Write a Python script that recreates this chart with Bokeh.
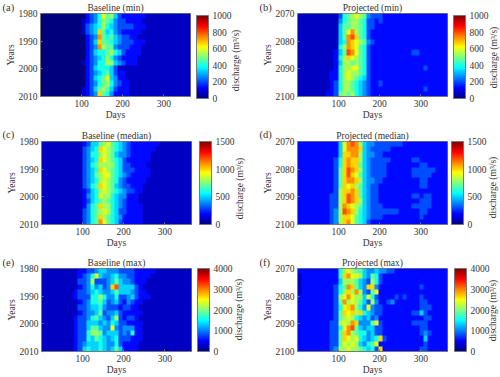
from bokeh.plotting import figure
from bokeh.layouts import column, row
from bokeh.models import LinearColorMapper, ColorBar, Label, FixedTicker
from bokeh.embed import file_html
from bokeh.resources import INLINE
import numpy as np
from math import pi

# Levels 0-f (fraction of the colour scale /15), rows = every 2 years, columns = 10-day bins
rows_a = [
"0000000000 0234697853 2222221111 1111111",
"0000000000 1234687643 3222211111 1111111",
"0000000000 1345686543 3332221111 1111111",
"0000000000 1345a75643 2222211111 1111111",
"0000000000 0234b76754 3322111111 1111111",
"0000000000 0235a77654 3332221111 1111111",
"0000000000 0234b87743 3322211111 1111111",
"0000000000 0235667865 3222211111 1111111",
"0000000000 0234568643 2222111111 1111111",
"0000000000 1234668854 3222111111 1111111",
"0000000000 0235666531 1111111111 1111111",
"0000000000 0234567532 2111111111 1111111",
"0000000000 0235679542 2111111111 1111111",
"0000000000 0234678643 2211111111 1111111",
"0000000000 1235787532 2211111111 1111111",
"0000000000 1234a76422 2211111111 1111111",
]
rows_b = [
"1111111111 3678987433 3222222222 2222222",
"1111111111 4678876332 3222222222 2222222",
"1111111111 5778876332 2222222222 2222222",
"1111111111 579b876322 2222222222 2222222",
"1111111111 57bca76322 2222222222 2222222",
"1111111111 56ba987432 2222222222 2222222",
"1111111111 68ba976322 2222222222 2222222",
"1111111112 57cb976322 2222222233 2222222",
"1111111112 68a9876322 2222222222 2222222",
"1111111112 5887876322 2222222222 2222222",
"1111111112 6889976322 2222222222 2322222",
"1111111122 6898876322 2222222222 2222222",
"1111111122 6898765322 2222222222 2222222",
"1111111123 6887654322 3222222222 2222222",
"1111111123 6887654322 2222222222 2322222",
"1111111223 7878654322 2222222222 2222222",
]
rows_c = [
"1111111111 2355789765 4322222221 1111111",
"1111111111 3456a98765 4322222211 1111111",
"1111111111 3466898754 4322222111 1111111",
"1111111111 3456a98765 3222222111 1111111",
"1111111111 3467888865 3322221111 1111111",
"1111111111 3456a98765 3332222111 1111111",
"1111111111 3457899765 4322222111 1111111",
"1111111111 3456898764 3222221111 1111111",
"1111111111 3467a98754 3322211111 1111111",
"1111111111 2356898765 4332211111 1111111",
"1111111111 2456988654 4222111111 1111111",
"1111111111 2356787654 3222111111 1111111",
"1111111111 2467a88654 3222211111 1111111",
"1111111111 3467898653 3222211111 1111111",
"1111111111 3467a87654 2222211111 1111111",
"1111111111 3467b97653 2222211111 1111111",
]
rows_d = [
"2222222222 59bcb85443 3333332222 2222222",
"2222222222 59bbba5433 3332222222 2222222",
"2222222222 5aabb85443 3222222222 2222222",
"2222222223 6abaa85433 3332222233 2222222",
"2222222223 6abaa75433 3322222222 3322222",
"2222222223 7acba85433 3322222233 3333222",
"2222222223 7aca975433 3322222233 3332222",
"2222222223 7abba85443 3222222222 3322222",
"2222222223 7a9a875433 2222222222 3322222",
"2222222223 8aaba75433 2222222222 2222222",
"2222222233 8acba75433 2222222233 2332222",
"2222222233 8acba85433 2222222222 3332222",
"2222222233 8ba9875433 3222222233 3332222",
"2222222234 8cba865433 3333322222 3322222",
"2222222234 8aa9765433 3222222222 3222222",
"2222222234 8ab9765322 2222222222 2222222",
]
rows_e = [
"1111111112 2334554443 3332222211 1111111",
"1111111112 3469544564 4332222111 1111111",
"1111111113 3483334575 4432221111 1111111",
"1111111112 3464534ac5 5553211111 1111111",
"1111111123 3456544575 5543221111 1111111",
"1111111123 3366864463 3453222111 1111111",
"1111111112 3466753453 2432211111 1111111",
"1111111113 3455643332 3322111111 1111111",
"1111111112 3445734453 2222211111 1111111",
"1111111123 3467543583 2332111111 1111111",
"1111111123 3555454653 3222211111 1111111",
"1111111123 3577544943 4442211111 1111111",
"1111111123 3688745553 4362211111 1111111",
"1111111123 3657654563 3322211111 1111111",
"1111111123 4555654463 2222111111 1111111",
"1111111123 5655654575 2222111111 1111111",
]
rows_f = [
"2222222222 6898775445 4433222222 2222222",
"1222222222 6ab9985476 3222222222 2222222",
"1222222222 5888754386 3222222222 2222222",
"1222222223 67ba754aa4 2222222222 3222222",
"1222222223 68a8b84379 2222222222 2222222",
"2222222223 89b9885963 2222323222 3222222",
"2222222223 7b89875384 2234222222 3322222",
"2222222223 69ab864943 3222222222 3332222",
"2222222223 7a9a8a6543 3222222233 5322222",
"2222222223 7898654534 2222222222 2332222",
"2222222233 898ba44479 3222222233 3322222",
"2222222233 69bc754553 3222222222 3322222",
"2222222233 7ab8766453 3222222222 3432222",
"2222222233 7a98965456 a322222222 2522222",
"2222222233 7989854679 2222222222 2322222",
"2222222234 8898876563 a222222222 3322222",
]

titles = ["Baseline (min)", "Projected (min)", "Baseline (median)", "Projected (median)", "Baseline (max)", "Projected (max)"]
letters = ["(a)", "(b)", "(c)", "(d)", "(e)", "(f)"]
vmaxes = [1000, 1000, 1500, 1500, 4000, 4000]
cb_ticks = [[0, 200, 400, 600, 800, 1000], [0, 200, 400, 600, 800, 1000],
            [0, 500, 1000, 1500], [0, 500, 1000, 1500],
            [0, 1000, 2000, 3000, 4000], [0, 1000, 2000, 3000, 4000]]
baseline_years = [1980, 2010]
projected_years = [2070, 2100]
day_ticks = [100, 200, 300]

def jet(n=256):
    out = []
    for i in range(n):
        t = i / (n - 1) * 4
        r = min(t - 1.5, -t + 4.5)
        g = min(t - 0.5, -t + 3.5)
        b = min(t + 0.5, -t + 2.5)
        c = [int(255 * max(0, min(1, v))) for v in (r, g, b)]
        out.append("#%02x%02x%02x" % tuple(c))
    return out

JET = jet()
FONT = "Liberation Serif"
FS = "9.5px"
TXT = "#333333"
GREY = "#777777"
W, H = 500, 377

# per-panel layout: left, right, top, bottom, colourbar gap, colourbar shift,
# centre of the discharge label (x, y from the page's top), letter position (x, y from the page's top)
layout = [
    (40, 60, 13, 26, 6, 2, 235, 60, 2, 7),
    (47, 53, 13, 26, 6, 2, 493, 57, 259, 7),
    (41, 59, 19, 26, 8, 0, 239, 188, 2, 134),
    (47, 53, 19, 26, 4, 0, 492, 187, 259, 134),
    (41, 59, 18, 26, 6, 0, 238, 309, 2, 262),
    (47, 53, 18, 26, 7, 0, 492, 310, 259, 262),
]

def panel(rows, i):
    L, R, T, B, gap, shift = layout[i][:6]
    grid = np.array([[int(c, 16) for c in r.replace(" ", "")] for r in rows], dtype=float) / 15 * vmaxes[i]
    yrs = baseline_years if i % 2 == 0 else projected_years
    p = figure(frame_width=150, frame_height=83, x_range=(0, 365), y_range=(yrs[1], yrs[0]),
               min_border_left=L, min_border_right=R, min_border_top=T, min_border_bottom=B,
               toolbar_location=None, output_backend="svg", tools="")
    mapper = LinearColorMapper(palette=JET, low=0, high=vmaxes[i])
    p.image(image=[grid], x=0, y=yrs[0], dw=365, dh=yrs[1] - yrs[0], color_mapper=mapper)
    p.grid.visible = False
    p.outline_line_color = GREY
    p.title.text = titles[i]
    p.title.align = "center"
    p.title.text_font = FONT
    p.title.text_font_size = FS
    p.title.text_font_style = "normal"
    p.title.text_color = TXT
    p.title.standoff = 1
    p.xaxis.ticker = FixedTicker(ticks=day_ticks)
    p.yaxis.ticker = FixedTicker(ticks=list(range(yrs[0], yrs[1] + 1, 10)))
    p.xaxis.axis_label = "Days"
    p.yaxis.axis_label = "Years"
    for ax in (p.xaxis[0], p.yaxis[0]):
        ax.major_label_text_font = FONT
        ax.major_label_text_font_size = FS
        ax.major_label_text_color = TXT
        ax.axis_label_text_font = FONT
        ax.axis_label_text_font_size = FS
        ax.axis_label_text_font_style = "normal"
        ax.axis_label_text_color = TXT
        ax.axis_line_color = GREY
        ax.major_tick_line_color = GREY
        ax.major_tick_in = 2
        ax.major_tick_out = 0
        ax.minor_tick_line_color = None
        ax.major_label_standoff = 3
        ax.axis_label_standoff = 0
    cb = ColorBar(color_mapper=mapper, width=12, height=83, padding=0, margin=0,
                  location=(gap, -shift), ticker=FixedTicker(ticks=cb_ticks[i]),
                  major_tick_line_color=None, major_label_text_font=FONT,
                  major_label_text_font_size=FS, major_label_text_color=TXT,
                  bar_line_color=GREY, label_standoff=4)
    p.add_layout(cb, "right")
    return p

figs = [panel(r, i) for i, r in enumerate([rows_a, rows_b, rows_c, rows_d, rows_e, rows_f])]

# Transparent layer over the whole page for the texts that lie outside the panels' frames
overlay = figure(frame_width=W, frame_height=H, x_range=(0, W), y_range=(0, H), min_border=0,
                 x_axis_location=None, y_axis_location=None, toolbar_location=None, tools="",
                 output_backend="svg", outline_line_color=None, border_fill_color=None,
                 background_fill_color=None)
overlay.grid.visible = False
overlay.styles = {"position": "absolute", "left": "0px", "top": "0px"}
for i, item in enumerate(layout):
    overlay.add_layout(Label(x=item[6], y=H - item[7], x_units="screen", y_units="screen",
                             text="discharge (m³/s)", angle=pi / 2, angle_units="rad",
                             text_font=FONT, text_font_size=FS, text_color=TXT,
                             text_align="center", text_baseline="middle"))
    overlay.add_layout(Label(x=item[8], y=H - item[9], x_units="screen", y_units="screen",
                             text=letters[i], text_font=FONT, text_font_size="10.5px", text_color=TXT,
                             text_align="left", text_baseline="middle"))

root = column(row(figs[0], figs[1], spacing=0), row(figs[2], figs[3], spacing=0),
              row(figs[4], figs[5], spacing=0), overlay, spacing=0)
root.styles = {"position": "absolute", "left": "0px", "top": "0px"}
open("out.html", "w").write(file_html(root, INLINE))
